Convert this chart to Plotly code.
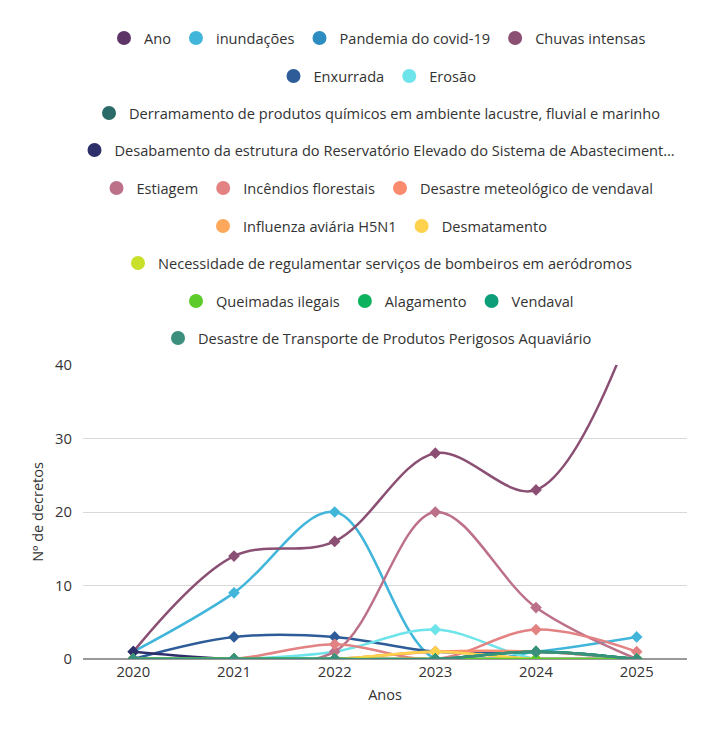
import plotly.graph_objects as go

anos = [2020, 2021, 2022, 2023, 2024, 2025]

series_names = [
    "Ano", "inundações", "Pandemia do covid-19", "Chuvas intensas",
    "Enxurrada", "Erosão",
    "Derramamento de produtos químicos em ambiente lacustre, fluvial e marinho",
    "Desabamento da estrutura do Reservatório Elevado do Sistema de Abasteciment…",
    "Estiagem", "Incêndios florestais", "Desastre meteológico de vendaval",
    "Influenza aviária H5N1", "Desmatamento",
    "Necessidade de regulamentar serviços de bombeiros em aeródromos",
    "Queimadas ilegais", "Alagamento", "Vendaval",
    "Desastre de Transporte de Produtos Perigosos Aquaviário",
]

ano = [2020, 2021, 2022, 2023, 2024, 2025]
inundacoes = [1, 9, 20, 0, 1, 3]
pandemia = [0, 0, 0, 0, 0, 0]
chuvas_intensas = [1, 14, 16, 28, 23, 47]
enxurrada = [0, 3, 3, 1, 1, 0]
erosao = [0, 0, 1, 4, 0, 0]
derramamento = [0, 0, 0, 0, 1, 0]
desabamento = [1, 0, 0, 0, 0, 0]
estiagem = [0, 0, 1, 20, 7, 0]
incendios = [0, 0, 2, 0, 4, 1]
desastre_vendaval = [0, 0, 0, 1, 1, 0]
influenza = [0, 0, 0, 1, 0, 0]
desmatamento = [0, 0, 0, 1, 0, 0]
necessidade = [0, 0, 0, 0, 0, 0]
queimadas = [0, 0, 0, 0, 0, 0]
alagamento = [0, 0, 0, 0, 1, 0]
vendaval = [0, 0, 0, 0, 1, 0]
transporte = [0, 0, 0, 0, 1, 0]

values = [ano, inundacoes, pandemia, chuvas_intensas, enxurrada, erosao,
          derramamento, desabamento, estiagem, incendios, desastre_vendaval,
          influenza, desmatamento, necessidade, queimadas, alagamento,
          vendaval, transporte]

colors = ["#5D3566", "#41B6DA", "#2D8CC0", "#8A4F73", "#2D5C99", "#6DE4EA",
          "#2A6B6A", "#2D2F6A", "#BD7188", "#E38283", "#FA8B6E", "#FDA85A",
          "#FFD24D", "#C8E02A", "#5DCB29", "#0DB25F", "#0B9E78", "#3A8F7D"]

# legend row assignment
legend_rows = [1, 1, 1, 1, 2, 2, 3, 4, 5, 5, 5, 6, 6, 7, 8, 8, 8, 9]
row_y = [38, 76, 113, 150, 188, 226, 263, 301, 338]

W, H = 719, 732
OFF = 8  # page body margin
fig = go.Figure()

for name, vals, col in zip(series_names, values, colors):
    fig.add_trace(go.Scatter(
        x=anos, y=vals, mode="lines+markers", name=name,
        line=dict(color=col, width=2.5, shape="spline", smoothing=1),
        marker=dict(symbol="diamond", size=9, color=col),
        showlegend=False, cliponaxis=True,
    ))

for name, col, r in zip(series_names, colors, legend_rows):
    lg = "legend" if r == 1 else f"legend{r}"
    fig.add_trace(go.Scatter(
        x=[None], y=[None], mode="markers", name=name,
        marker=dict(symbol="circle", size=14, color=col),
        showlegend=True, legend=lg,
    ))

legend_font = dict(family="Open Sans", size=14.6, color="#333333")
layout_legends = {}
for i, yc in enumerate(row_y, start=1):
    key = "legend" if i == 1 else f"legend{i}"
    layout_legends[key] = dict(
        orientation="h", x=(W / 2 - OFF + 18) / W, xanchor="center", xref="container",
        y=1 - (yc - OFF) / H, yanchor="middle", yref="container",
        font=legend_font, bgcolor="rgba(0,0,0,0)", itemclick=False,
    )

fig.update_layout(
    width=W, height=H,
    margin=dict(l=75, r=40, t=357, b=81, autoexpand=False),
    paper_bgcolor="white", plot_bgcolor="white",
    font=dict(family="Open Sans", size=14, color="#333333"),
    xaxis=dict(
        range=[2019.5, 2025.5], tickvals=anos, ticktext=[str(a) for a in anos],
        showgrid=False, zeroline=False, showline=False,
        title=dict(text="Anos", font=dict(size=14.5), standoff=10),
        tickfont=dict(size=14.8), ticklabelstandoff=2,
    ),
    yaxis=dict(
        range=[0, 40], tickvals=[0, 10, 20, 30, 40],
        showgrid=True, gridcolor="#D9D9D9", gridwidth=1,
        zeroline=True, zerolinecolor="#999999", zerolinewidth=1.5,
        title=dict(text="Nº de decretos", font=dict(size=14.5), standoff=8),
        tickfont=dict(size=14.8), ticks="", ticklabelstandoff=10,
    ),
    **layout_legends,
)

fig.write_html("out.html")
